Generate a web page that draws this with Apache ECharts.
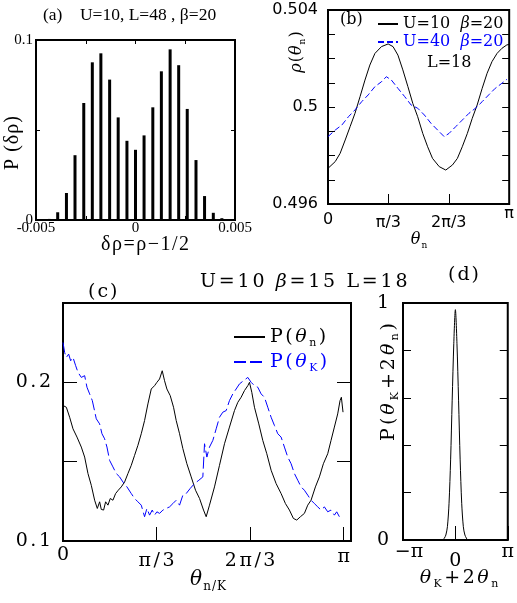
<!DOCTYPE html>
<html><head><meta charset="utf-8">
<script src="https://cdn.jsdelivr.net/npm/echarts@6/dist/echarts.min.js"></script>
<style>html,body{margin:0;padding:0;background:#fff}#c{width:517px;height:603px}</style>
</head><body><div id="c"></div><script>
// ---------- DATA ----------
// (a) histogram of density fluctuation
const drho = [-0.00434,-0.00391,-0.00347,-0.00304,-0.00260,-0.00217,-0.00174,-0.00130,-0.00087,-0.00043,0,0.00043,0.00087,0.00130,0.00174,0.00217,0.00260,0.00304,0.00347,0.00391,0.00434];
const pdrho = [0.0006,0.0043,0.015,0.036,0.065,0.0876,0.0926,0.078,0.057,0.044,0.039,0.047,0.0626,0.0826,0.0948,0.086,0.0617,0.0333,0.0133,0.004,0.001];
// (b) rho(theta_n), theta in units of pi
const bU10x = [0,0.040,0.067,0.095,0.122,0.149,0.177,0.204,0.231,0.259,0.295,0.332,0.359,0.386,0.413,0.441,0.468,0.495,0.523,0.550,0.577,0.614,0.650,0.687,0.714,0.741,0.769,0.796,0.823,0.851,0.878,0.905,0.933,0.960,0.987,1.0];
const bU10y = [0.49747,0.49775,0.49809,0.49864,0.49919,0.49974,0.50043,0.50111,0.50173,0.50221,0.50249,0.50260,0.50249,0.50214,0.50153,0.50084,0.50015,0.49960,0.49891,0.49836,0.49788,0.49754,0.49740,0.49761,0.49788,0.49836,0.49891,0.49953,0.50008,0.50077,0.50139,0.50187,0.50221,0.50242,0.50256,0.50258];
const bU40x = [0,0.040,0.077,0.113,0.149,0.186,0.222,0.259,0.295,0.322,0.350,0.386,0.423,0.459,0.495,0.532,0.568,0.605,0.641,0.668,0.705,0.741,0.778,0.814,0.851,0.887,0.923,0.960,0.987];
const bU40y = [0.49878,0.49905,0.49926,0.49960,0.49988,0.50022,0.50050,0.50084,0.50104,0.50125,0.50111,0.50077,0.50043,0.50008,0.49995,0.49967,0.49933,0.49905,0.49878,0.49891,0.49919,0.49946,0.49974,0.49995,0.50022,0.50050,0.50077,0.50098,0.50114];
// (c) P(theta_n) and P(theta_K), theta in units of pi
const cNx = [0,0.0119,0.0237,0.0356,0.0498,0.0652,0.0771,0.0890,0.1008,0.1127,0.1222,0.1305,0.1364,0.1447,0.1518,0.1601,0.1684,0.1779,0.1874,0.1969,0.2076,0.2195,0.2313,0.2432,0.2550,0.2669,0.2788,0.2906,0.3025,0.3144,0.3262,0.3345,0.3440,0.3535,0.3618,0.3701,0.3820,0.3938,0.4033,0.4152,0.4270,0.4413,0.4567,0.4721,0.4864,0.5006,0.5101,0.5219,0.5397,0.5575,0.5753,0.5931,0.6109,0.6228,0.6346,0.6465,0.6584,0.6643,0.6726,0.6821,0.6975,0.7117,0.7260,0.7414,0.7592,0.7770,0.7924,0.8066,0.8209,0.8327,0.8458,0.8600,0.8719,0.8837,0.8992,0.9134,0.9276,0.9431,0.9549,0.9668,0.9786,0.9870,0.9917,0.9976];
const cNy = [0.1854,0.1843,0.1780,0.1707,0.1655,0.1592,0.1529,0.1425,0.1351,0.1257,0.1205,0.1247,0.1199,0.1195,0.1247,0.1226,0.1268,0.1257,0.1299,0.1320,0.1341,0.1372,0.1425,0.1477,0.1540,0.1603,0.1676,0.1759,0.1864,0.1958,0.1979,0.2000,0.2021,0.2073,0.2010,0.1958,0.1916,0.1843,0.1759,0.1676,0.1582,0.1487,0.1404,0.1320,0.1268,0.1195,0.1153,0.1226,0.1341,0.1477,0.1613,0.1718,0.1822,0.1874,0.1906,0.1948,0.1979,0.2000,0.1937,0.1843,0.1738,0.1634,0.1550,0.1446,0.1362,0.1299,0.1236,0.1195,0.1142,0.1132,0.1153,0.1174,0.1226,0.1257,0.1341,0.1404,0.1487,0.1550,0.1634,0.1718,0.1801,0.1885,0.1906,0.1812];
const cKx = [0,0.0059,0.0119,0.0202,0.0273,0.0356,0.0451,0.0534,0.0652,0.0771,0.0854,0.0949,0.1044,0.1186,0.1305,0.1388,0.1483,0.1566,0.1661,0.1779,0.1898,0.2017,0.2135,0.2278,0.2432,0.2550,0.2669,0.2788,0.2906,0.2989,0.3084,0.3179,0.3262,0.3345,0.3440,0.3559,0.3677,0.3796,0.3915,0.4033,0.4152,0.4270,0.4389,0.4531,0.4686,0.4840,0.4982,0.5042,0.5125,0.5219,0.5338,0.5457,0.5575,0.5694,0.5813,0.5931,0.6050,0.6168,0.6287,0.6429,0.6584,0.6702,0.6821,0.6940,0.7058,0.7177,0.7295,0.7414,0.7533,0.7651,0.7770,0.7888,0.8007,0.8126,0.8244,0.8363,0.8482,0.8600,0.8719,0.8837,0.8956,0.9075,0.9193,0.9312,0.9431,0.9549,0.9668,0.9751,0.9846];
const cKy = [0.2251,0.2188,0.2157,0.2178,0.2136,0.2157,0.2105,0.2063,0.2031,0.2042,0.1969,0.1927,0.1885,0.1770,0.1738,0.1676,0.1644,0.1592,0.1508,0.1467,0.1425,0.1404,0.1372,0.1341,0.1299,0.1268,0.1247,0.1226,0.1153,0.1205,0.1163,0.1195,0.1163,0.1184,0.1174,0.1195,0.1205,0.1215,0.1236,0.1257,0.1226,0.1289,0.1299,0.1331,0.1362,0.1383,0.1404,0.1613,0.1529,0.1592,0.1634,0.1707,0.1780,0.1812,0.1822,0.1885,0.1927,0.1958,0.1990,0.2010,0.2031,0.2000,0.1979,0.1969,0.1927,0.1906,0.1843,0.1780,0.1728,0.1676,0.1655,0.1592,0.1529,0.1487,0.1425,0.1383,0.1341,0.1320,0.1289,0.1257,0.1236,0.1215,0.1195,0.1215,0.1184,0.1195,0.1163,0.1184,0.1153];
// (d) P(theta_K + 2 theta_n), x in units of pi
const dX = [-0.242,-0.21,-0.182,-0.152,-0.121,-0.091,-0.061,-0.030,0,0.030,0.061,0.091,0.121,0.152,0.182,0.23];
const dY = [0,0.008,0.021,0.056,0.155,0.338,0.59,0.83,0.972,0.83,0.59,0.338,0.155,0.056,0.021,0];

// ---------- CHART ----------
const zip = (a, b) => a.map((v, i) => [v, b[i]]);
const near = (v, t) => Math.abs(v - t) < 1e-6;
const BLUE = '#0000ff';
const SERIF = 'DejaVu Serif';
const TIMES = 'Liberation Serif';
// letter-spaced rich text: parts = [[text, styleKey], ...]
function sp(parts) {
  const toks = [];
  parts.forEach(p => { for (const ch of p[0]) toks.push('{' + p[1] + '|' + ch + '}'); });
  return toks.join('{g|\u00a0}');
}
function richSet(fam, size, lh, gap) {
  return {
    r: {fontFamily: fam, fontSize: size, lineHeight: lh},
    i: {fontFamily: fam, fontSize: size, lineHeight: lh, fontStyle: 'italic'},
    s: {fontFamily: fam, fontSize: Math.round(size * 0.58), lineHeight: Math.round(lh * 0.5), verticalAlign: 'bottom'},
    g: {fontFamily: fam, fontSize: 4, lineHeight: lh, width: gap}
  };
}
const tick = (len) => ({show: true, inside: true, length: len, lineStyle: {color: '#000', width: 1}});
const piLabel = v => near(v,0)?'0':near(v,1/3)?'π/3':near(v,2/3)?'2π/3':near(v,1)?'π':'';
const noLine = {show: false, onZero: false};

const chart = echarts.init(document.getElementById('c'));
const gridStyle = {show: true, borderColor: '#000', borderWidth: 2, backgroundColor: 'transparent', containLabel: false};
const rc = richSet(SERIF, 19, 24, 2.5);

const option = {
  animation: false,
  grid: [
    Object.assign({left: 36, top: 40, width: 199, height: 180}, gridStyle),
    Object.assign({left: 328, top: 10, width: 183, height: 194}, gridStyle),
    Object.assign({left: 63, top: 303, width: 288, height: 238}, gridStyle),
    Object.assign({left: 403, top: 303, width: 111, height: 237}, gridStyle)
  ],
  xAxis: [
    {gridIndex: 0, type: 'value', min: -0.005, max: 0.005, interval: 0.0025, position: 'bottom',
     axisLine: noLine, splitLine: {show: false}, axisTick: tick(4),
     axisLabel: {margin: 1, color: '#000', fontFamily: TIMES, fontSize: 15,
       formatter: v => near(v,-0.005)?'-0.005':near(v,0)?'0':near(v,0.005)?'0.005':''}},
    {gridIndex: 0, type: 'value', min: -0.005, max: 0.005, interval: 0.0025, position: 'top',
     axisLine: noLine, splitLine: {show: false}, axisTick: tick(4), axisLabel: {show: false}},
    {gridIndex: 1, type: 'value', min: 0, max: 1, interval: 1/3,
     axisLine: noLine, splitLine: {show: false}, axisTick: tick(10),
     axisLabel: {margin: 8, color: '#000', fontFamily: 'DejaVu Sans', fontSize: 16,
       formatter: v => { const s = piLabel(v); if (!s) return ''; return near(v,1) ? '{e|'+s+'}' : (near(v,0)?'{z|'+s+'}':'{p|'+s+'}'); },
       rich: {z: {padding: [0,0,0,0]}, p: {padding: [3,0,0,0]}, e: {padding: [-6,0,0,0]}}}},
    {gridIndex: 2, type: 'value', min: 0, max: 1.026, interval: 1/3,
     axisLine: noLine, splitLine: {show: false}, axisTick: tick(14),
     axisLabel: {margin: 2, color: '#000',
       formatter: v => { const s = piLabel(v); if (!s) return ''; const k = near(v,1) ? 'e' : near(v,0) ? 'z' : 'p'; return sp([[s, k]]); },
       rich: Object.assign({}, rc, {
         z: {fontFamily: SERIF, fontSize: 19, lineHeight: 24, padding: [0,0,0,0]},
         p: {fontFamily: SERIF, fontSize: 19, lineHeight: 24, padding: [13,0,0,0]},
         e: {fontFamily: SERIF, fontSize: 19, lineHeight: 24, padding: [5,0,0,0]}})}},
    {gridIndex: 3, type: 'value', min: -1, max: 1, interval: 1,
     axisLine: noLine, splitLine: {show: false}, axisTick: tick(14),
     axisLabel: {margin: 3, color: '#000', fontFamily: SERIF, fontSize: 19,
       formatter: v => near(v,-1)?'{l|−π}':near(v,0)?'{z|0}':near(v,1)?'{r|π}':'',
       rich: {l: {fontSize: 19, padding: [0,0,0,12]}, z: {fontSize: 19, padding: [9,0,0,0]}, r: {fontSize: 19, padding: [0,0,0,0]}}}}
  ],
  yAxis: [
    {gridIndex: 0, type: 'value', min: 0, max: 0.1, interval: 0.05, position: 'left',
     axisLine: noLine, splitLine: {show: false}, axisTick: tick(4),
     axisLabel: {margin: 3, color: '#000', fontFamily: TIMES, fontSize: 15,
       formatter: v => near(v,0)?'0':near(v,0.1)?'0.1':''}},
    {gridIndex: 0, type: 'value', min: 0, max: 0.1, interval: 0.05, position: 'right',
     axisLine: noLine, splitLine: {show: false}, axisTick: tick(4), axisLabel: {show: false}},
    {gridIndex: 1, type: 'value', min: 0.496, max: 0.504, interval: 0.001, position: 'left',
     axisLine: noLine, splitLine: {show: false}, axisTick: tick(7),
     axisLabel: {margin: 10, color: '#000', fontFamily: 'DejaVu Sans', fontSize: 16,
       formatter: v => near(v,0.496)?'0.496':near(v,0.5)?'0.5':near(v,0.504)?'0.504':''}},
    {gridIndex: 1, type: 'value', min: 0.496, max: 0.504, interval: 0.001, position: 'right',
     axisLine: noLine, splitLine: {show: false}, axisTick: tick(7), axisLabel: {show: false}},
    {gridIndex: 2, type: 'value', min: 0.1, max: 0.25, interval: 0.05, position: 'left',
     axisLine: noLine, splitLine: {show: false}, axisTick: tick(14),
     axisLabel: {margin: 12, color: '#000',
       formatter: v => near(v,0.1)?sp([['0.1','r']]):near(v,0.2)?sp([['0.2','r']]):'',
       rich: rc}},
    {gridIndex: 2, type: 'value', min: 0.1, max: 0.25, interval: 0.05, position: 'right',
     axisLine: noLine, splitLine: {show: false}, axisTick: tick(14), axisLabel: {show: false}},
    {gridIndex: 3, type: 'value', min: 0, max: 1, interval: 0.2, position: 'left',
     axisLine: noLine, splitLine: {show: false}, axisTick: tick(8),
     axisLabel: {margin: 14, color: '#000', fontFamily: SERIF, fontSize: 19,
       formatter: v => near(v,0)?'0':near(v,1)?'1':''}},
    {gridIndex: 3, type: 'value', min: 0, max: 1, interval: 0.2, position: 'right',
     axisLine: noLine, splitLine: {show: false}, axisTick: tick(8), axisLabel: {show: false}}
  ],
  legend: [
    {left: 372, top: 11, orient: 'vertical', itemWidth: 20, itemHeight: 10, itemGap: 2,
     itemStyle: {opacity: 0},
     textStyle: {fontFamily: SERIF, fontSize: 16, color: '#000',
       rich: {i: {fontStyle: 'italic', fontFamily: SERIF, fontSize: 16}}},
     formatter: n => n === 'U10' ? 'U=10  {i|β}=20' : 'U=40  {i|β}=20',
     data: [{name: 'U10'}, {name: 'U40', textStyle: {color: BLUE}}]},
    {left: 228, top: 320, orient: 'vertical', itemWidth: 31, itemHeight: 10, itemGap: 1,
     itemStyle: {opacity: 0},
     textStyle: {fontFamily: SERIF, fontSize: 19, color: '#000', lineHeight: 24, rich: rc},
     formatter: n => n === 'Pn' ? sp([['P(','r'],['θ','i'],['n','s'],[')','r']]) : sp([['P(','r'],['θ','i'],['K','s'],[')','r']]),
     data: [{name: 'Pn'}, {name: 'PK', textStyle: {color: BLUE}}]}
  ],
  series: [
    {type: 'bar', xAxisIndex: 0, yAxisIndex: 0, barWidth: 3, itemStyle: {color: '#000'},
     data: zip(drho, pdrho)},
    {name: 'U10', type: 'line', xAxisIndex: 2, yAxisIndex: 2, symbol: 'none',
     lineStyle: {color: '#000', width: 1}, itemStyle: {color: '#000'}, data: zip(bU10x, bU10y)},
    {name: 'U40', type: 'line', xAxisIndex: 2, yAxisIndex: 2, symbol: 'none',
     lineStyle: {color: BLUE, width: 1, type: [6, 3]}, itemStyle: {color: BLUE}, data: zip(bU40x, bU40y)},
    {name: 'Pn', type: 'line', xAxisIndex: 3, yAxisIndex: 4, symbol: 'none',
     lineStyle: {color: '#000', width: 1}, itemStyle: {color: '#000'}, data: zip(cNx, cNy)},
    {name: 'PK', type: 'line', xAxisIndex: 3, yAxisIndex: 4, symbol: 'none',
     lineStyle: {color: BLUE, width: 1, type: [12, 4]}, itemStyle: {color: BLUE}, data: zip(cKx, cKy)},
    {name: 'Pd', type: 'line', xAxisIndex: 4, yAxisIndex: 6, symbol: 'none', smooth: 0.3,
     lineStyle: {color: '#000', width: 1}, data: zip(dX, dY)}
  ],
  graphic: [
    {type: 'text', left: 43, top: 6, style: {text: '(a)    U=10, L=48 , β=20', font: '17.5px "Liberation Serif"', fill: '#000'}},
    {type: 'text', x: 13, y: 143, rotation: Math.PI/2,
     style: {text: sp([['P','r'],[' ','r'],['(δρ)','r']]), fill: '#000', align: 'center', verticalAlign: 'middle',
       rich: richSet(TIMES, 20, 24, 1)}},
    {type: 'text', x: 145, y: 245,
     style: {text: sp([['δρ=ρ−1/2','r']]), fill: '#000', align: 'center', verticalAlign: 'middle',
       rich: richSet(TIMES, 20, 24, 1.5)}},
    {type: 'text', x: 340, y: 20,
     style: {text: '(b)', font: '16px "DejaVu Serif"', fill: '#000', align: 'left', verticalAlign: 'middle'}},
    {type: 'text', x: 427, y: 63,
     style: {text: 'L=18', font: '16px "DejaVu Serif"', fill: '#000', align: 'left', verticalAlign: 'middle'}},
    {type: 'text', x: 297, y: 52, rotation: Math.PI/2,
     style: {text: sp([['ρ','i'],['(','r'],['θ','i'],['n','s'],[')','r']]), fill: '#000', align: 'center', verticalAlign: 'middle',
       rich: richSet(SERIF, 16, 20, 1)}},
    {type: 'text', x: 419, y: 240,
     style: {text: sp([['θ','i'],['n','s']]), fill: '#000', align: 'center', verticalAlign: 'middle',
       rich: richSet(SERIF, 16, 20, 1)}},
    {type: 'text', x: 88, y: 292,
     style: {text: sp([['(c)','r']]), fill: '#000', align: 'left', verticalAlign: 'middle', rich: richSet(SERIF, 19, 24, 2)}},
    {type: 'text', x: 200, y: 282,
     style: {text: sp([['U=10','r']]) + '{g|\u00a0}{g|\u00a0}{g|\u00a0}{g|\u00a0}' + sp([['β','i'],['=15','r']]) + '{g|\u00a0}{g|\u00a0}{g|\u00a0}{g|\u00a0}' + sp([['L=18','r']]),
       fill: '#000', align: 'left', verticalAlign: 'middle', rich: richSet(SERIF, 19, 24, 2.8)}},
    {type: 'text', x: 208, y: 580,
     style: {text: sp([['θ','i'],['n/K','s']]), fill: '#000', align: 'center', verticalAlign: 'middle',
       rich: richSet(SERIF, 20, 26, 1)}},
    {type: 'text', x: 448, y: 275,
     style: {text: sp([['(d)','r']]), fill: '#000', align: 'left', verticalAlign: 'middle', rich: richSet(SERIF, 19, 24, 2)}},
    {type: 'text', x: 389, y: 382, rotation: Math.PI/2,
     style: {text: sp([['P(','r'],['θ','i'],['K','s'],['+2','r'],['θ','i'],['n','s'],[')','r']]), fill: '#000', align: 'center', verticalAlign: 'middle',
       rich: richSet(SERIF, 19, 24, 3)}},
    {type: 'text', x: 459, y: 578,
     style: {text: sp([['θ','i'],['K','s'],['+2','r'],['θ','i'],['n','s']]), fill: '#000', align: 'center', verticalAlign: 'middle',
       rich: richSet(SERIF, 19, 24, 2.5)}}
  ]
};
chart.setOption(option);
</script></body></html>
